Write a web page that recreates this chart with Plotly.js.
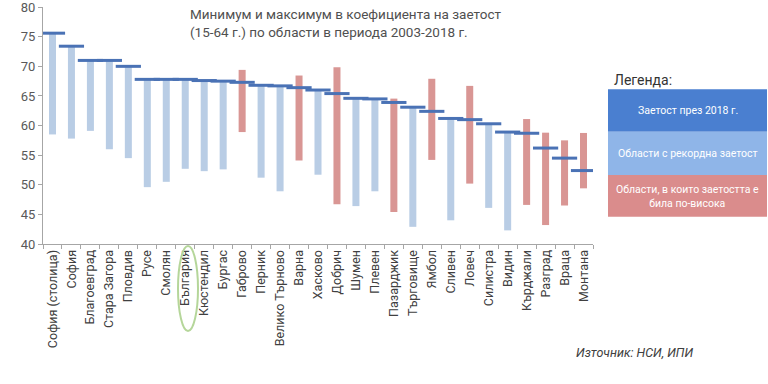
<!DOCTYPE html>
<html>
<head>
<meta charset="utf-8">
<script src="https://cdn.plot.ly/plotly-3.0.1.min.js"></script>
<style>html,body{margin:0;padding:0;background:#fff;}#chart{width:768px;height:384px;}</style>
</head>
<body>
<div id="chart"></div>
<script>
var regions = ["София (столица)","София","Благоевград","Стара Загора","Пловдив","Русе","Смолян","България","Кюстендил","Бургас","Габрово","Перник","Велико Търново","Варна","Хасково","Добрич","Шумен","Плевен","Пазарджик","Търговище","Ямбол","Сливен","Ловеч","Силистра","Видин","Кърджали","Разград","Враца","Монтана"];
var value2018 = [75.6,73.4,71.0,71.0,70.0,67.8,67.8,67.8,67.6,67.5,67.3,66.8,66.7,66.4,66.0,65.4,64.6,64.5,63.9,63.1,62.4,61.2,61.0,60.3,58.9,58.7,56.2,54.5,52.4];
var minValue = [58.5,57.8,59.1,56.0,54.5,49.6,50.5,52.7,52.3,52.6,58.9,51.2,48.9,54.1,51.7,46.7,46.4,48.9,45.4,42.9,54.2,44.0,50.2,46.1,42.3,46.6,43.2,46.5,49.4];
var maxValue = [75.6,73.4,71.0,71.0,70.0,67.8,67.8,67.8,67.6,67.5,69.4,66.8,66.7,68.45,66.0,69.85,64.6,64.5,64.55,63.1,67.9,61.2,66.7,60.3,58.9,61.1,58.8,57.5,58.75];
var yTicks = [40,45,50,55,60,65,70,75,80];

var recordX=[],recordBase=[],recordLen=[],highX=[],highBase=[],highLen=[];
for (var i=0;i<regions.length;i++){
  if (maxValue[i] > value2018[i]) { highX.push(regions[i]); highBase.push(minValue[i]); highLen.push(maxValue[i]-minValue[i]); }
  else { recordX.push(regions[i]); recordBase.push(minValue[i]); recordLen.push(maxValue[i]-minValue[i]); }
}

var traces = [
  {type:'bar', x:recordX, y:recordLen, base:recordBase, width:0.37, marker:{color:'#b9cde5'}, hoverinfo:'skip'},
  {type:'bar', x:highX, y:highLen, base:highBase, width:0.37, marker:{color:'#d99694'}, hoverinfo:'skip'},
  {type:'scatter', mode:'markers', x:regions, y:value2018,
   marker:{symbol:'line-ew', size:18, color:'#4a72b5', line:{color:'#4a72b5', width:3}}, hoverinfo:'skip'}
];

var TOP = 7, BOTTOM = 244, LEFT = 43, RIGHT = 593;
function px2x(px){return (px-LEFT)/(RIGHT-LEFT);}
function py2y(py){return (BOTTOM-py)/(BOTTOM-TOP);}

var layout = {
  width:768, height:384,
  margin:{l:LEFT, r:768-RIGHT, t:TOP, b:384-BOTTOM, autoexpand:false},
  paper_bgcolor:'#ffffff', plot_bgcolor:'#ffffff',
  showlegend:false, barmode:'overlay',
  font:{family:'Roboto, "Open Sans", sans-serif', color:'#404040'},
  xaxis:{type:'category', categoryorder:'array', categoryarray:regions, range:[-0.5, regions.length-0.5], automargin:false,
    tickangle:-90, tickfont:{size:12.5, color:'#404040'}, showline:true, linecolor:'#a6a6a6', linewidth:1,
    ticks:'outside', tickson:'boundaries', ticklen:4, tickcolor:'#a6a6a6', showgrid:false, zeroline:false, fixedrange:true},
  yaxis:{range:[40,80.02], tickvals:yTicks, ticktext:yTicks.map(String), tickfont:{size:13, color:'#595959'}, automargin:false,
    ticklabeloverflow:'allow',
    showline:true, linecolor:'#a6a6a6', linewidth:1, ticks:'outside', ticklen:4, tickcolor:'#a6a6a6',
    showgrid:false, zeroline:false, fixedrange:true},
  shapes:[
    {type:'rect', xref:'paper', yref:'paper', x0:px2x(608), x1:px2x(767), y0:py2y(131.7), y1:py2y(89.3), fillcolor:'#4a7fd0', line:{width:0}},
    {type:'rect', xref:'paper', yref:'paper', x0:px2x(608), x1:px2x(767), y0:py2y(175), y1:py2y(131.7), fillcolor:'#8fb5e8', line:{width:0}},
    {type:'rect', xref:'paper', yref:'paper', x0:px2x(608), x1:px2x(767), y0:py2y(216.7), y1:py2y(175), fillcolor:'#da8c8c', line:{width:0}},
    {type:'circle', xref:'paper', yref:'paper', x0:px2x(178), x1:px2x(198), y0:py2y(331), y1:py2y(246), line:{color:'#b5d69a', width:2}}
  ],
  annotations:[
    {xref:'paper', yref:'paper', x:px2x(345), y:py2y(23), xanchor:'center', yanchor:'middle', showarrow:false, align:'left',
     text:'Минимум и максимум в коефициента на заетост<br>(15-64 г.) по области в периода 2003-2018 г.', font:{size:13.5, color:'#505050'}},
    {xref:'paper', yref:'paper', x:px2x(612), y:py2y(80), xanchor:'left', yanchor:'middle', showarrow:false,
     text:'Легенда:', font:{size:14, color:'#333333'}},
    {xref:'paper', yref:'paper', x:px2x(687.5), y:py2y(110.5), xanchor:'center', yanchor:'middle', showarrow:false,
     text:'Заетост през 2018 г.', font:{size:10.5, color:'#ffffff'}},
    {xref:'paper', yref:'paper', x:px2x(687.5), y:py2y(153), xanchor:'center', yanchor:'middle', showarrow:false,
     text:'Области с рекордна заетост', font:{size:10.5, color:'#ffffff'}},
    {xref:'paper', yref:'paper', x:px2x(687.5), y:py2y(196), xanchor:'center', yanchor:'middle', showarrow:false,
     text:'Области, в които заетостта е<br>била по-висока', font:{size:10.5, color:'#ffffff'}},
    {xref:'paper', yref:'paper', x:px2x(695), y:py2y(352), xanchor:'right', yanchor:'middle', showarrow:false,
     text:'<i>Източник: НСИ, ИПИ</i>', font:{size:12.5, color:'#404040'}}
  ]
};

Plotly.newPlot('chart', traces, layout, {displayModeBar:false, staticPlot:true});
</script>
</body>
</html>
